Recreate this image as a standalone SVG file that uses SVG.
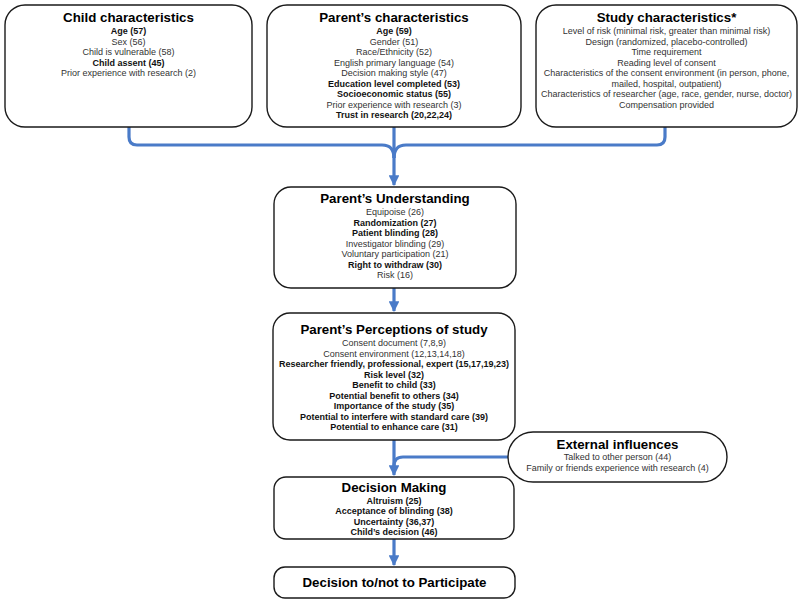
<svg xmlns="http://www.w3.org/2000/svg" width="800" height="603" viewBox="0 0 800 603">
<style>
.box{fill:#fff;stroke:#1a1a1a;stroke-width:1.4}
text{font-family:"Liberation Sans",Arial,sans-serif;text-anchor:middle}
.t{font-size:13.3px;font-weight:bold;fill:#000}
.n{font-size:9px;fill:#333}
.b{font-size:9px;font-weight:bold;fill:#111}
.c{fill:none;stroke:#4a7bc8;stroke-width:3.2}
</style>
<defs>
<marker id="ah" viewBox="0 0 10 10" refX="9" refY="5" markerWidth="3.4" markerHeight="3.4" orient="auto" markerUnits="strokeWidth">
<path d="M0,0 L10,5 L0,10 z" fill="#4a7bc8"/>
</marker>
</defs>
<rect width="800" height="603" fill="#fff"/>
<g id="connectors">
<path class="c" d="M129,127 V137 Q129,145 137,145 H382 Q394,145 394,158"/>
<path class="c" d="M665,127 V137 Q665,145 657,145 H406 Q394,145 394,158"/>
<path class="c" d="M394,127 V185" marker-end="url(#ah)"/>
<path class="c" d="M394,288 V311" marker-end="url(#ah)"/>
<path class="c" d="M394,440 V475" marker-end="url(#ah)"/>
<path class="c" d="M508,457 H403 Q394,457 394,466"/>
<path class="c" d="M394,539 V565" marker-end="url(#ah)"/>
</g>
<g id="child">
<rect class="box" x="5" y="5" width="247" height="122" rx="20"/>
<text class="t" x="128.5" y="22">Child characteristics</text>
<text class="b" x="128.5" y="34">Age (57)</text>
<text class="n" x="128.5" y="44.5">Sex (56)</text>
<text class="n" x="128.5" y="55">Child is vulnerable (58)</text>
<text class="b" x="128.5" y="65.5">Child assent (45)</text>
<text class="n" x="128.5" y="76">Prior experience with research (2)</text>
</g>
<g id="parent">
<rect class="box" x="267" y="5" width="254" height="122" rx="20"/>
<text class="t" x="394" y="22">Parent’s characteristics</text>
<text class="b" x="394" y="34">Age (59)</text>
<text class="n" x="394" y="44.5">Gender (51)</text>
<text class="n" x="394" y="55">Race/Ethnicity (52)</text>
<text class="n" x="394" y="65.5">English primary language (54)</text>
<text class="n" x="394" y="76">Decision making style (47)</text>
<text class="b" x="394" y="86.5">Education level completed (53)</text>
<text class="b" x="394" y="97">Socioeconomic status (55)</text>
<text class="n" x="394" y="107.5">Prior experience with research (3)</text>
<text class="b" x="394" y="118">Trust in research (20,22,24)</text>
</g>
<g id="study">
<rect class="box" x="536" y="5" width="261" height="122" rx="20"/>
<text class="t" x="666.5" y="21.5">Study characteristics*</text>
<text class="n" x="666.5" y="34">Level of risk (minimal risk, greater than minimal risk)</text>
<text class="n" x="666.5" y="44.5">Design (randomized, placebo-controlled)</text>
<text class="n" x="666.5" y="55">Time requirement</text>
<text class="n" x="666.5" y="65.5">Reading level of consent</text>
<text class="n" x="666.5" y="76">Characteristics of the consent environment (in person, phone,</text>
<text class="n" x="666.5" y="86.5">mailed, hospital, outpatient)</text>
<text class="n" x="666.5" y="97">Characteristics of researcher (age, race, gender, nurse, doctor)</text>
<text class="n" x="666.5" y="107.5">Compensation provided</text>
</g>
<g id="understanding">
<rect class="box" x="274" y="187" width="242" height="101" rx="17"/>
<text class="t" x="395" y="203">Parent’s Understanding</text>
<text class="n" x="395" y="215">Equipoise (26)</text>
<text class="b" x="395" y="225.5">Randomization (27)</text>
<text class="b" x="395" y="236">Patient blinding (28)</text>
<text class="n" x="395" y="246.5">Investigator blinding (29)</text>
<text class="n" x="395" y="257">Voluntary participation (21)</text>
<text class="b" x="395" y="267.5">Right to withdraw (30)</text>
<text class="n" x="395" y="278">Risk (16)</text>
</g>
<g id="perceptions">
<rect class="box" x="273" y="313" width="242" height="127" rx="17"/>
<text class="t" x="394" y="334">Parent’s Perceptions of study</text>
<text class="n" x="394" y="346">Consent document (7,8,9)</text>
<text class="n" x="394" y="356.5">Consent environment (12,13,14,18)</text>
<text class="b" x="394" y="367">Researcher friendly, professional, expert (15,17,19,23)</text>
<text class="b" x="394" y="377.5">Risk level (32)</text>
<text class="b" x="394" y="388">Benefit to child (33)</text>
<text class="b" x="394" y="398.5">Potential benefit to others (34)</text>
<text class="b" x="394" y="409">Importance of the study (35)</text>
<text class="b" x="394" y="419.5">Potential to interfere with standard care (39)</text>
<text class="b" x="394" y="430">Potential to enhance care (31)</text>
</g>
<g id="external">
<rect class="box" x="508" y="432" width="219" height="50" rx="25"/>
<text class="t" x="617.5" y="449">External influences</text>
<text class="n" x="617.5" y="459.5">Talked to other person (44)</text>
<text class="n" x="617.5" y="471">Family or friends experience with research (4)</text>
</g>
<g id="decision">
<rect class="box" x="274" y="477" width="240" height="62" rx="12"/>
<text class="t" x="394" y="492">Decision Making</text>
<text class="b" x="394" y="503.5">Altruism (25)</text>
<text class="b" x="394" y="514">Acceptance of blinding (38)</text>
<text class="b" x="394" y="524.5">Uncertainty (36,37)</text>
<text class="b" x="394" y="535">Child’s decision (46)</text>
</g>
<g id="final">
<rect class="box" x="274" y="567" width="241" height="31" rx="11"/>
<text class="t" x="394.5" y="587">Decision to/not to Participate</text>
</g>
</svg>
